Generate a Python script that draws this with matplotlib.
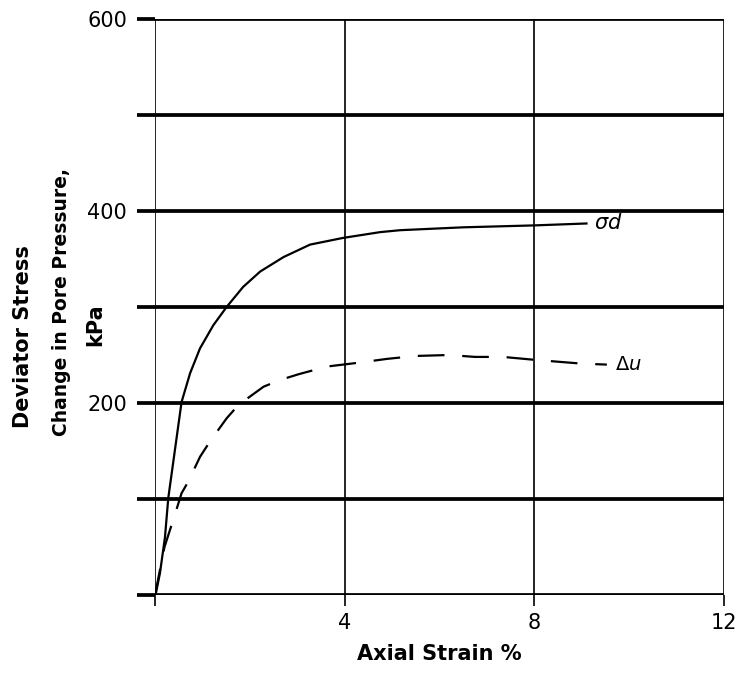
import numpy as np
import matplotlib
matplotlib.use("Agg")
import matplotlib.pyplot as plt

# axial strain (%) vs deviator stress / pore pressure change (kPa)
strain_sd = [0, 0.02, 0.105, 0.21, 0.28, 0.42, 0.56, 0.74, 0.95, 1.23, 1.51, 1.86,
             2.22, 2.71, 3.27, 3.97, 4.75, 5.17, 6.5, 8.0, 9.1]
stress_sd = [0, 2, 23, 60, 101, 151, 201, 231, 257, 281, 300, 321,
             337, 352, 365, 372, 378, 380, 383, 385, 387]

strain_du = [0, 0.2, 0.35, 0.44, 0.56, 0.70, 0.95, 1.16, 1.51, 1.76, 2.29, 2.64,
             3.03, 3.63, 4.3, 4.9, 5.5, 6.2, 6.75, 7.34, 8.0, 9.0, 9.53]
stress_du = [0, 50, 73, 87, 106, 118, 144, 160, 184, 198, 217, 224,
             230, 238, 242, 246, 249, 250, 248, 248, 245, 241, 240]

xticks = [0, 4, 8, 12]
xticklabels = ["", "4", "8", "12"]
yticks = [0, 100, 200, 300, 400, 500, 600]
yticklabels = ["", "", "200", "", "400", "", "600"]

W, H = 746, 677
fig = plt.figure(figsize=(W / 100, H / 100), dpi=100)
ax = fig.add_axes([155 / W, 1 - 595 / H, (724 - 155) / W, (595 - 19) / H])

ax.set_xlim(0, 12)
ax.set_ylim(0, 600)

# grid: thick horizontals, thin verticals
for v in yticks:
    ax.axhline(v, color="black", lw=2.7, zorder=1)
for v in xticks:
    ax.axvline(v, color="black", lw=1.2, zorder=1)

ax.plot(strain_sd, stress_sd, color="black", lw=1.6, zorder=3)
ax.plot(strain_du, stress_du, color="black", lw=1.6, dashes=(12, 8), zorder=3)

ax.text(9.25, 388, r"$\sigma d$", fontsize=15, va="center", ha="left")
ax.text(9.7, 240, r"$\Delta u$", fontsize=14, va="center", ha="left")

for s in ax.spines.values():
    s.set_visible(False)

ax.set_xticks(xticks)
ax.set_xticklabels(xticklabels, fontsize=15)
ax.set_yticks(yticks)
ax.set_yticklabels(yticklabels, fontsize=15)
ax.tick_params(axis="x", direction="out", length=8, width=1.2, pad=5)
ax.tick_params(axis="y", direction="out", length=13, width=2.7, pad=7)

ax.set_xlabel("Axial Strain %", fontsize=15, fontweight="bold", labelpad=8)

fig.text(23 / W, 1 - 337 / H, "Deviator Stress", rotation=90, fontsize=15,
         fontweight="bold", ha="center", va="center")
fig.text(62 / W, 1 - 302 / H, "Change in Pore Pressure,", rotation=90, fontsize=13.5,
         fontweight="bold", ha="center", va="center")
fig.text(95 / W, 1 - 325 / H, "kPa", rotation=90, fontsize=15,
         fontweight="bold", ha="center", va="center")

fig.savefig("out.png", dpi=100, facecolor="white")
